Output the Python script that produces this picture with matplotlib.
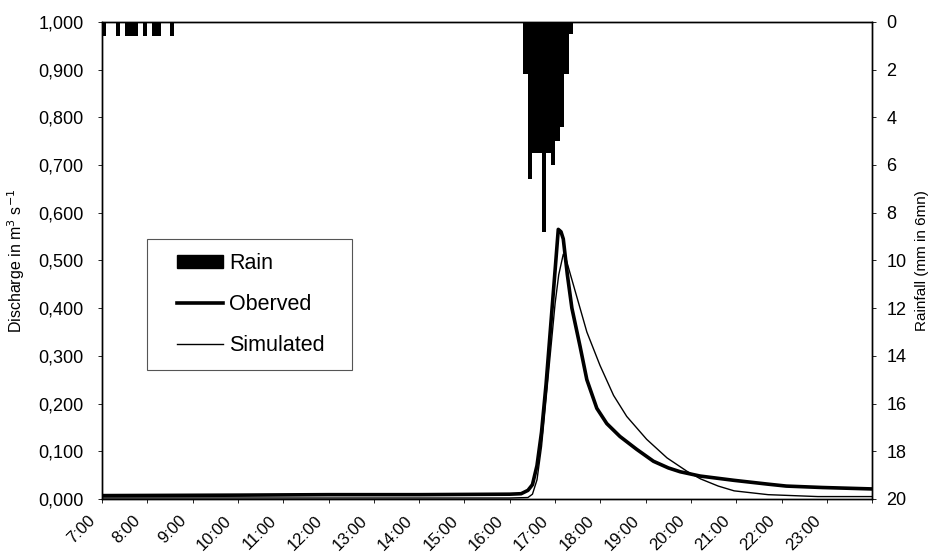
import matplotlib.pyplot as plt
from matplotlib.patches import Patch, Rectangle
from matplotlib.lines import Line2D
from matplotlib.transforms import ScaledTranslation

plt.rcParams['font.family'] = ['Liberation Sans', 'DejaVu Sans']

# rain, 6-minute totals (start hour of each slot, mm)
rain_start = [7.0, 7.3, 7.5, 7.6, 7.7, 7.9, 8.1, 8.2, 8.5,
              16.3, 16.4, 16.5, 16.6, 16.7, 16.8, 16.9, 17.0, 17.1, 17.2, 17.3]
rain_mm = [0.6, 0.6, 0.6, 0.6, 0.6, 0.6, 0.6, 0.6, 0.6,
           2.2, 6.6, 5.5, 5.5, 8.8, 5.5, 6.0, 5.0, 4.4, 2.2, 0.5]

# observed discharge (hour, m3/s)
obs_t = [7.0, 10.0, 12.0, 14.0, 16.0, 16.25, 16.4, 16.5, 16.6, 16.7, 16.8, 16.9,
         17.0, 17.07, 17.13, 17.18, 17.27, 17.37, 17.55, 17.7, 17.92, 18.14, 18.43,
         18.8, 19.17, 19.5, 19.76, 20.2, 20.95, 21.7, 22.1, 22.9, 24.0]
obs_q = [0.007, 0.008, 0.009, 0.009, 0.010, 0.011, 0.018, 0.030, 0.070, 0.140, 0.240, 0.360,
         0.480, 0.565, 0.560, 0.545, 0.470, 0.400, 0.320, 0.250, 0.190, 0.158, 0.131,
         0.104, 0.079, 0.065, 0.057, 0.048, 0.039, 0.031, 0.027, 0.024, 0.021]

# simulated discharge
sim_t = [7.0, 16.0, 16.4, 16.5, 16.6, 16.7, 16.8, 16.9, 17.0, 17.08, 17.18, 17.25,
         17.33, 17.55, 17.7, 17.99, 18.29, 18.58, 19.02, 19.47, 19.91, 20.21, 20.6,
         20.95, 21.7, 22.8, 24.0]
sim_q = [0.002, 0.002, 0.003, 0.010, 0.040, 0.110, 0.210, 0.310, 0.410, 0.470, 0.513, 0.500,
         0.473, 0.400, 0.350, 0.280, 0.217, 0.173, 0.125, 0.086, 0.058, 0.042, 0.027,
         0.017, 0.009, 0.005, 0.005]

hour_ticks = list(range(7, 25))
hour_labels = ["%d:00" % h for h in range(7, 24)] + [""]
q_ticks = [0.0, 0.1, 0.2, 0.3, 0.4, 0.5, 0.6, 0.7, 0.8, 0.9, 1.0]
q_labels = ["0,000", "0,100", "0,200", "0,300", "0,400", "0,500",
            "0,600", "0,700", "0,800", "0,900", "1,000"]
rain_ticks = list(range(0, 21, 2))

fig = plt.figure(figsize=(9.35, 5.6), dpi=100)
ax = fig.add_axes([0.109, 0.109, 0.824, 0.852])
ax2 = ax.twinx()

ax.plot(obs_t, obs_q, color='black', lw=2.6, solid_joinstyle='round')
ax.plot(sim_t, sim_q, color='black', lw=1.0)
ax2.bar(rain_start, rain_mm, width=0.1, align='edge', color='black', lw=0)

ax.set_xlim(7, 24)
ax.set_ylim(0, 1.0)
ax2.set_ylim(20, 0)

ax.set_xticks(hour_ticks)
ax.set_xticklabels(hour_labels, rotation=45, ha='right', va='center',
                   rotation_mode='anchor', fontsize=12)
ax.set_yticks(q_ticks)
ax.set_yticklabels(q_labels, fontsize=13)
ax2.set_yticks(rain_ticks)
ax2.set_yticklabels([str(r) for r in rain_ticks], fontsize=13)

ax.tick_params(axis='x', direction='out', length=3, width=0.6, pad=11)
ax.tick_params(axis='y', direction='out', length=3, width=0.6, pad=10)
ax2.tick_params(axis='y', direction='out', length=3, width=0.6, pad=7)

# nudge the slanted hour labels left, like the original
shift = ScaledTranslation(-9 / 100, 0, fig.dpi_scale_trans)
for lab in ax.get_xticklabels():
    lab.set_transform(lab.get_transform() + shift)

for a in (ax, ax2):
    for s in a.spines.values():
        s.set_linewidth(1.0)

ax.set_ylabel("Discharge in m$^3$ s$^{-1}$", fontsize=11.5, labelpad=8)
ax2.set_ylabel("Rainfall (mm in 6mn)", fontsize=11, labelpad=6)

# legend frame drawn as a plain box
ax.add_patch(Rectangle((0.0584, 0.271), 0.2663, 0.273, transform=ax.transAxes,
                       fill=False, edgecolor='#555555', lw=0.8, zorder=5))
handles = [Patch(facecolor='black', edgecolor='black'),
           Line2D([], [], color='black', lw=2.6),
           Line2D([], [], color='black', lw=1.0)]
leg = ax.legend(handles, ["Rain", "Oberved", "Simulated"], loc='upper left',
                bbox_to_anchor=(0.0974, 0.515), fontsize=15.5, frameon=False,
                handlelength=2.14, handletextpad=0.28, labelspacing=0.92,
                borderpad=0, borderaxespad=0, handleheight=0.56)

fig.savefig("out.png", dpi=100)
